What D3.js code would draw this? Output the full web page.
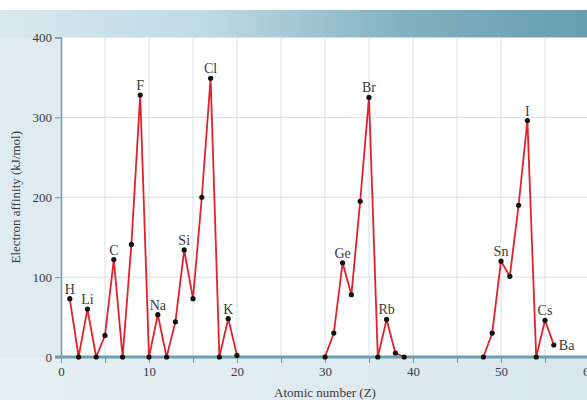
<!DOCTYPE html>
<html lang="en">
<head>
<meta charset="UTF-8">
<title>Electron affinity vs atomic number</title>
<script src="https://d3js.org/d3.v7.min.js"></script>
<style>
  body { margin: 0; background: #fff; }
  text { font-family: "Liberation Serif", "DejaVu Serif", serif; fill: #3a3a3a; }
</style>
</head>
<body>
<svg id="chart" width="587" height="400"></svg>
<script>
// atomic number and electron affinity (kJ/mol)
const atomicNumbers = [1,2,3,4,5,6,7,8,9,10,11,12,13,14,15,16,17,18,19,20,
                       30,31,32,33,34,35,36,37,38,39,
                       48,49,50,51,52,53,54,55,56];
const affinities    = [73,0,60,0,27,122,0,141,328,0,53,0,44,134,73,200,349,0,48,2,
                       0,30,118,78,195,325,0,47,5,0,
                       0,30,120,101,190,296,0,46,15];
// element labels shown on the chart
const labelSymbols = ["H","Li","C","F","Na","Si","Cl","K","Ge","Br","Rb","Sn","I","Cs","Ba"];
const labelZ       = [1,3,6,9,11,14,17,19,32,35,37,50,53,55,56];
const xTicks = [0,10,20,30,40,50,60];
const yTicks = [0,100,200,300,400];

const W = 587, H = 400;
const svg = d3.select("#chart");

const x = d3.scaleLinear().domain([0, 60]).range([61, 589]);
const y = d3.scaleLinear().domain([0, 400]).range([357, 37.5]);

// background
const defs = svg.append("defs");
const band = defs.append("linearGradient").attr("id", "band");
band.append("stop").attr("offset", "0%").attr("stop-color", "#d9e8ee");
band.append("stop").attr("offset", "35%").attr("stop-color", "#c0dae3");
band.append("stop").attr("offset", "70%").attr("stop-color", "#7fb0bf");
band.append("stop").attr("offset", "100%").attr("stop-color", "#659fb0");
const low = defs.append("linearGradient").attr("id", "low").attr("x1", 0).attr("x2", 1).attr("y1", 0).attr("y2", 0);
low.append("stop").attr("offset", "0%").attr("stop-color", "#e6f0f3");
low.append("stop").attr("offset", "100%").attr("stop-color", "#d8e7ed");

svg.append("rect").attr("x", 0).attr("y", 10).attr("width", W).attr("height", H - 10).attr("fill", "#dfebf0");
svg.append("rect").attr("x", 0).attr("y", 357).attr("width", W).attr("height", H - 357).attr("fill", "url(#low)");
svg.append("rect").attr("x", 0).attr("y", 10).attr("width", W).attr("height", 28).attr("fill", "url(#band)");
svg.append("rect").attr("x", x(0)).attr("y", y(400)).attr("width", W - x(0)).attr("height", y(0) - y(400)).attr("fill", "#fff");

// grid
const grid = svg.append("g").attr("stroke", "#d3e3e9").attr("stroke-width", 1);
grid.selectAll(".vg").data(d3.range(5, 61, 5)).join("line")
  .attr("x1", d => x(d)).attr("x2", d => x(d)).attr("y1", y(400)).attr("y2", y(0));
grid.selectAll(".hg").data(yTicks.slice(1, 4)).join("line")
  .attr("x1", x(0)).attr("x2", W).attr("y1", d => y(d)).attr("y2", d => y(d));

// axes
const yAxis = d3.axisLeft(y).tickValues(yTicks).tickSize(6).tickPadding(3);
const gy = svg.append("g").attr("transform", `translate(${x(0)},0)`).call(yAxis);
gy.select(".domain").attr("stroke", "#6d9fae").attr("stroke-width", 1.5);
gy.selectAll(".tick line").attr("stroke", "#6d9fae");
gy.selectAll(".tick text").attr("font-size", 13).attr("font-family", null);

const xAxis = d3.axisBottom(x).tickValues(d3.range(0, 61, 5)).tickSize(6).tickPadding(4)
  .tickFormat(d => xTicks.includes(d) ? d : "");
const gx = svg.append("g").attr("transform", `translate(0,${y(0)})`).call(xAxis);
gx.select(".domain").attr("stroke", "#6d9fae").attr("stroke-width", 3)
  .attr("d", `M${x(0) - 6},0H${W}`);
gx.selectAll(".tick line").attr("stroke", "#6d9fae");
gx.selectAll(".tick text").attr("font-size", 13).attr("font-family", null);

// axis titles
svg.append("text").attr("transform", `translate(20,${(y(0) + y(400)) / 2}) rotate(-90)`)
  .attr("text-anchor", "middle").attr("font-size", 13).text("Electron affinity (kJ/mol)");
svg.append("text").attr("x", 325).attr("y", 397).attr("text-anchor", "middle")
  .attr("font-size", 13).text("Atomic number (Z)");

// data, broken where atomic numbers skip
const pts = atomicNumbers.map((z, i) => ({ z, v: affinities[i] }));
const segs = [];
pts.forEach((p, i) => {
  if (i === 0 || p.z - pts[i - 1].z > 1) segs.push([]);
  segs[segs.length - 1].push(p);
});
const line = d3.line().x(d => x(d.z)).y(d => y(d.v));
svg.append("g").selectAll("path").data(segs).join("path")
  .attr("d", line).attr("fill", "none").attr("stroke", "#e3202b")
  .attr("stroke-width", 1.8).attr("stroke-linejoin", "round");
svg.append("g").selectAll("circle").data(pts).join("circle")
  .attr("cx", d => x(d.z)).attr("cy", d => y(d.v)).attr("r", 2.6).attr("fill", "#111");

// element labels
svg.append("g").selectAll("text").data(labelSymbols).join("text")
  .attr("font-size", 14)
  .attr("x", (s, i) => s === "Ba" ? x(labelZ[i]) + 5 : x(labelZ[i]))
  .attr("y", (s, i) => {
    const v = affinities[atomicNumbers.indexOf(labelZ[i])];
    return s === "Ba" ? y(v) + 5 : y(v) - 5;
  })
  .attr("text-anchor", s => s === "Ba" ? "start" : "middle")
  .text(s => s);
</script>
</body>
</html>
